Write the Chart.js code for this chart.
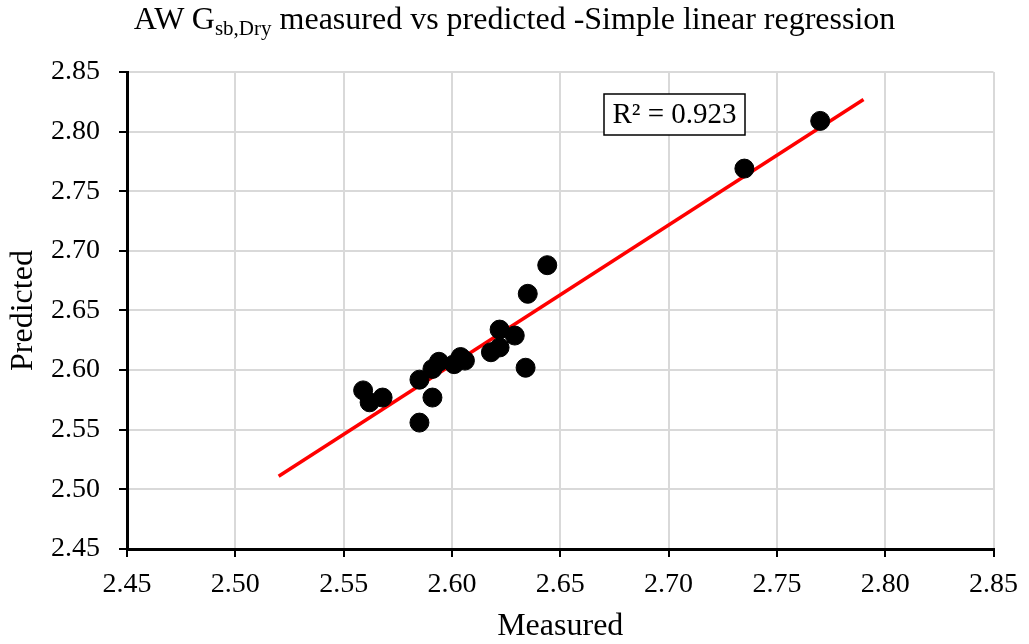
<!DOCTYPE html>
<html>
<head>
<meta charset="utf-8">
<script src="https://cdn.jsdelivr.net/npm/chart.js@4.4.0/dist/chart.umd.min.js"></script>
<style>
  body { margin: 0; background: #fff; }
  #wrap { position: relative; width: 1029px; height: 644px; }
  #title {
    position: absolute; left: 0; top: 2px; width: 1029px; line-height: 32px;
    text-align: center; font-family: "Liberation Serif", serif; font-size: 32px; color: #000;
  }
  #title sub { font-size: 21px; line-height: 0; vertical-align: -0.3em; }
</style>
</head>
<body>
<div id="wrap">
  <canvas id="chart" width="1029" height="644"></canvas>
  <div id="title">AW G<sub>sb,Dry</sub> measured vs predicted -Simple linear regression</div>
</div>
<script>
// Valeurs
const measured  = [2.559, 2.562, 2.568, 2.585, 2.585, 2.591, 2.591, 2.594, 2.601, 2.604,
                   2.606, 2.618, 2.622, 2.622, 2.629, 2.634, 2.635, 2.644, 2.735, 2.770];
const predicted = [2.583, 2.573, 2.577, 2.592, 2.556, 2.577, 2.601, 2.607, 2.605, 2.611,
                   2.608, 2.615, 2.619, 2.634, 2.629, 2.602, 2.664, 2.688, 2.769, 2.809];

// Droite de régression (extrémités)
const fitX = [2.52, 2.79];
const fitY = [2.511, 2.827];

const axisMin = 2.45;
const axisMax = 2.85;
const axisStep = 0.05;
const r2Label = "R² = 0.923";

const font = "Liberation Serif";

// Encadré R²
const r2Box = {
  id: "r2Box",
  afterDatasetsDraw(chart) {
    const ctx = chart.ctx;
    ctx.save();
    ctx.fillStyle = "#fff";
    ctx.strokeStyle = "#000";
    ctx.lineWidth = 1.5;
    ctx.fillRect(604, 94, 141, 41);
    ctx.strokeRect(604, 94, 141, 41);
    ctx.fillStyle = "#000";
    ctx.font = "29px '" + font + "'";
    ctx.textAlign = "center";
    ctx.textBaseline = "middle";
    ctx.fillText(r2Label, 674.5, 115);
    ctx.restore();
  }
};

const ctx = document.getElementById("chart").getContext("2d");

new Chart(ctx, {
  type: "scatter",
  data: {
    datasets: [
      {
        label: "Fit",
        type: "line",
        data: fitX.map((x, i) => ({ x, y: fitY[i] })),
        borderColor: "#ff0000",
        borderWidth: 3.5,
        pointRadius: 0,
        fill: false,
        order: 2
      },
      {
        label: "Data",
        data: measured.map((x, i) => ({ x, y: predicted[i] })),
        backgroundColor: "#000",
        borderColor: "#000",
        pointRadius: 9.5,
        order: 1
      }
    ]
  },
  options: {
    responsive: false,
    animation: false,
    layout: { padding: { left: 0, top: 72, right: 32, bottom: 0 } },
    plugins: {
      legend: { display: false },
      tooltip: { enabled: false }
    },
    scales: {
      x: {
        type: "linear",
        min: axisMin,
        max: axisMax,
        afterFit(scale) { scale.height = 95; },
        ticks: {
          stepSize: axisStep,
          padding: 11,
          color: "#000",
          font: { family: font, size: 28 },
          callback: v => v.toFixed(2)
        },
        grid: { color: "#d9d9d9", lineWidth: 2, tickLength: 8, tickColor: "#000" },
        border: { color: "#000", width: 3 },
        title: {
          display: true,
          text: "Measured",
          color: "#000",
          font: { family: font, size: 32, lineHeight: 1 },
          padding: { top: 0, bottom: 1 }
        }
      },
      y: {
        type: "linear",
        min: axisMin,
        max: axisMax,
        afterFit(scale) { scale.width = 127; },
        ticks: {
          stepSize: axisStep,
          padding: 19,
          color: "#000",
          font: { family: font, size: 28 },
          callback: v => v.toFixed(2)
        },
        grid: { color: "#d9d9d9", lineWidth: 2, tickLength: 8, tickColor: "#000" },
        border: { color: "#000", width: 3 },
        title: {
          display: true,
          text: "Predicted",
          color: "#000",
          font: { family: font, size: 32, lineHeight: 1 },
          padding: { top: 8, bottom: 0 }
        }
      }
    }
  },
  plugins: [r2Box]
});
</script>
</body>
</html>
